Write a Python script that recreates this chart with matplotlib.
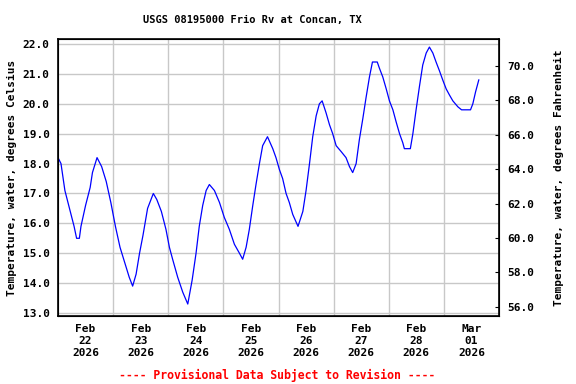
import datetime as dt
import matplotlib
matplotlib.use("Agg")
import matplotlib.pyplot as plt

# hours since 2026-02-22 00:00 and water temperature (deg C)
hours = [0, 1.3, 3, 5, 7, 8.1, 9.3, 10, 12, 14, 15, 17, 19, 21, 23, 25, 27, 29, 31,
         32.5, 34, 35.5, 37, 39, 41.5, 43, 45, 47, 48.5, 49.9, 52.1, 54.3, 56.5,
         58.4, 60.1, 61.5, 63, 64.5, 65.9, 68.1, 70.3, 72.4, 74.6, 76.8, 79, 80.4,
         81.9, 83.3, 84.8, 86.2, 87.7, 89.1, 91.2, 93.5, 94.9, 96.4, 97.8, 99.3,
         100.7, 102.2, 104.5, 106.6, 108, 109.5, 110.9, 112.4, 113.8, 115, 116.7,
         118.2, 119.6, 121.1, 123.3, 125.4, 126.9, 128.3, 129.8, 131.2, 132.7,
         134.1, 135.6, 136.9, 139, 139.9, 141.4, 142.9, 144.3, 145.8, 147.2, 148.7,
         150.1, 150.8, 153.4, 154.5, 155.9, 157.4, 158.8, 160.3, 161.7, 163.2,
         164.6, 166.1, 167.5, 169, 170.4, 171.9, 174.1, 175.7, 179.6, 180.6,
         181.8, 183.2]
temp_c = [18.2, 18.0, 17.1, 16.5, 15.9, 15.5, 15.5, 15.9, 16.6, 17.2, 17.7, 18.2,
          17.9, 17.4, 16.7, 15.9, 15.2, 14.7, 14.2, 13.9, 14.3, 15.0, 15.6, 16.5,
          17.0, 16.8, 16.4, 15.8, 15.2, 14.8, 14.2, 13.7, 13.3, 14.1, 15.0, 15.9,
          16.6, 17.1, 17.3, 17.1, 16.7, 16.2, 15.8, 15.3, 15.0, 14.8, 15.2, 15.8,
          16.6, 17.3, 18.0, 18.6, 18.9, 18.5, 18.2, 17.8, 17.5, 17.0, 16.7, 16.3,
          15.9, 16.4, 17.1, 18.0, 18.9, 19.6, 20.0, 20.1, 19.7, 19.3, 19.0, 18.6,
          18.4, 18.2, 17.9, 17.7, 18.0, 18.8, 19.5, 20.2, 20.9, 21.4, 21.4, 21.2,
          20.9, 20.5, 20.1, 19.8, 19.4, 19.0, 18.7, 18.5, 18.5, 19.0, 19.8, 20.6,
          21.3, 21.7, 21.9, 21.7, 21.4, 21.1, 20.8, 20.5, 20.3, 20.1, 19.9, 19.8,
          19.8, 20.0, 20.4, 20.8]

day_labels = ["Feb\n22\n2026", "Feb\n23\n2026", "Feb\n24\n2026", "Feb\n25\n2026",
              "Feb\n26\n2026", "Feb\n27\n2026", "Feb\n28\n2026", "Mar\n01\n2026"]
f_ticks = [56, 58, 60, 62, 64, 66, 68, 70]

start = dt.datetime(2026, 2, 22)
times = [start + dt.timedelta(hours=h) for h in hours]

plt.rcParams['font.family'] = ['DejaVu Sans Mono']
plt.rcParams['font.weight'] = 'bold'
plt.rcParams['font.size'] = 8

fig = plt.figure(figsize=(5.76, 3.84), dpi=100)
ax = fig.add_axes([58/576, 1-316/384, 441/576, 277/384])

ax.plot(times, temp_c, color='#0000ff', lw=0.9)

ax.set_xlim(start, start + dt.timedelta(days=8))
ax.set_ylim(12.9, 22.17)
ax.set_yticks(range(13, 23))
ax.set_yticklabels([f"{v:.1f}" for v in range(13, 23)], fontweight='bold')

noon = [start + dt.timedelta(days=i, hours=12) for i in range(8)]
midnight = [start + dt.timedelta(days=i) for i in range(1, 8)]
ax.set_xticks(noon)
ax.set_xticklabels(day_labels, fontweight='bold', linespacing=1.25)
ax.set_xticks(midnight, minor=True)
ax.grid(False)
ax.grid(True, which='minor', axis='x', color='#c8c8c8', lw=1)
ax.grid(True, which='major', axis='y', color='#c8c8c8', lw=1)
ax.tick_params(axis='x', which='both', length=0, pad=6)
ax.tick_params(axis='y', length=0, pad=6)
ax.set_ylabel("Temperature, water, degrees Celsius", fontweight='bold', labelpad=4)
for s in ax.spines.values():
    s.set_linewidth(1.2)

ax2 = ax.twinx()
ax2.set_ylim(55.46, 71.57)
ax2.set_yticks(f_ticks)
ax2.set_yticklabels([f"{v:.1f}" for v in f_ticks], fontweight='bold')
ax2.tick_params(axis='y', direction='in', length=3, pad=6)
ax2.set_ylabel("Temperature, water, degrees Fahrenheit", fontweight='bold', labelpad=14)

fig.text(252/576, 1-20/384, "USGS 08195000 Frio Rv at Concan, TX",
         ha='center', va='center', fontweight='bold', fontsize=7.5)
fig.text(277/576, 1-375/384, "---- Provisional Data Subject to Revision ----",
         ha='center', va='center', fontweight='bold', fontsize=8.3, color='#ff0000')

fig.savefig("out.png", dpi=100)
